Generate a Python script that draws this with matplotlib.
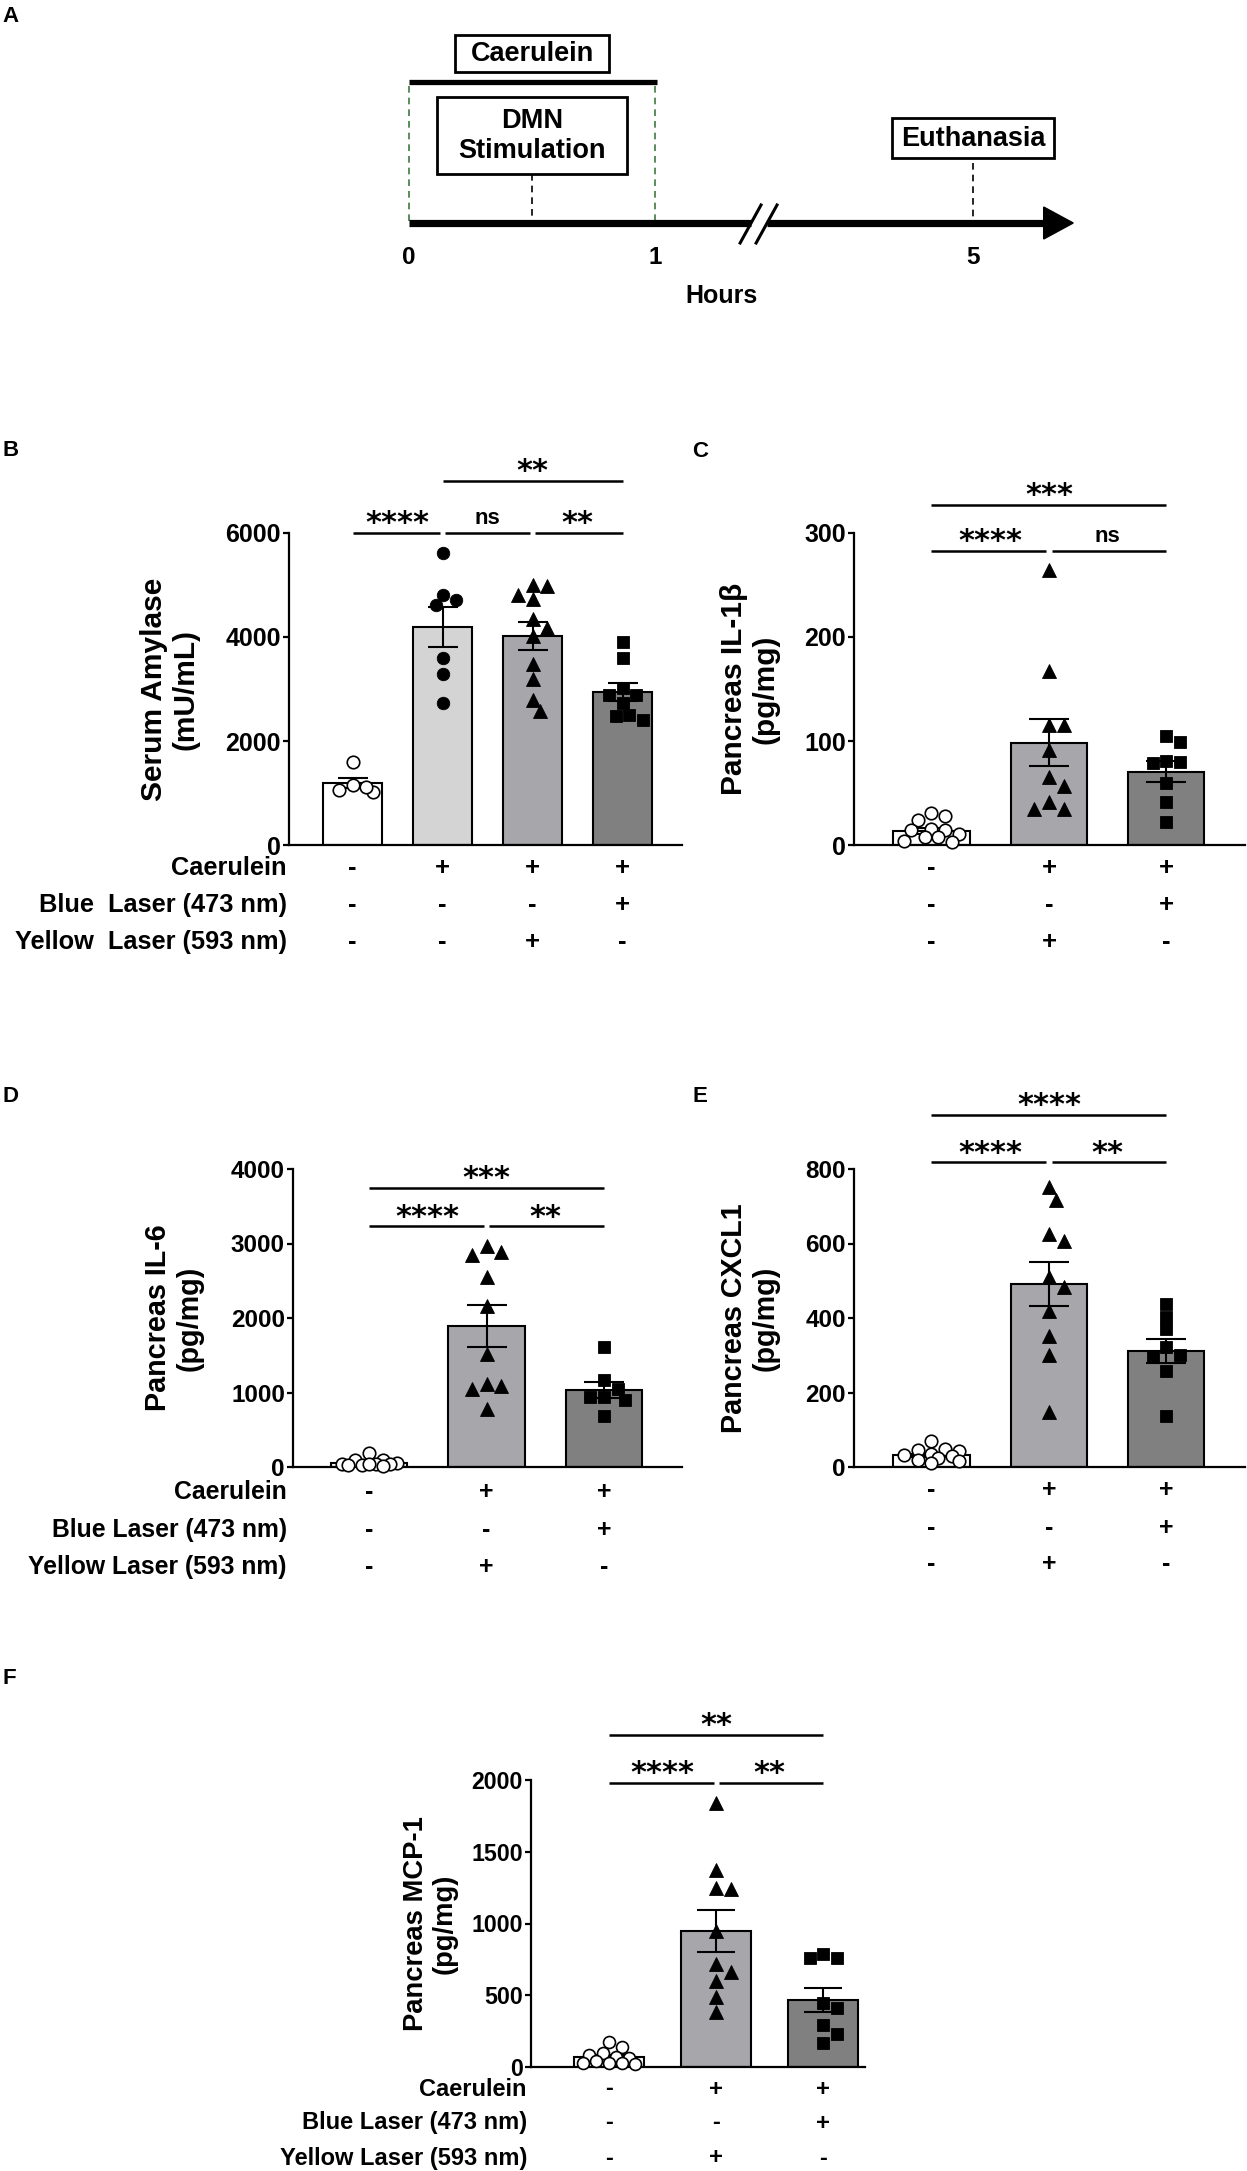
import numpy as np
import matplotlib
matplotlib.use("Agg")
import matplotlib.pyplot as plt
from matplotlib.patches import Rectangle, Polygon

plt.rcParams['font.family'] = ['Liberation Sans', 'DejaVu Sans']
plt.rcParams['font.weight'] = 'bold'

# ---------------- data ----------------
timeline_ticks = [0, 1, 5]
caerulein_hours = (0, 1)
dmn_hour = 0.5
euthanasia_hour = 5

caerulein_B = ["-", "+", "+", "+"]
blue_B = ["-", "-", "-", "+"]
yellow_B = ["-", "-", "+", "-"]
rows_B = ["Caerulein", "Blue  Laser (473 nm)", "Yellow  Laser (593 nm)"]

amylase_pts = [
    [1590, 1020, 1160, 1060, 1125],
    [5620, 4720, 4610, 4815, 3605, 3290, 2730],
    [4810, 4980, 4995, 4730, 4345, 4165, 4015, 3475, 3195, 2790, 2580],
    [3910, 3590, 3015, 2885, 2885, 2725, 2480, 2500, 2405],
]
amylase_mean = [1190, 4190, 4015, 2935]
amylase_sem = [100, 385, 265, 175]
amylase_sig = [(0, 1, 6000, "****"), (1, 2, 6000, "ns"), (2, 3, 6000, "**"), (1, 3, 7000, "**")]

caerulein_3 = ["-", "+", "+"]
blue_3 = ["-", "-", "+"]
yellow_3 = ["-", "+", "-"]
rows_3 = ["Caerulein", "Blue Laser (473 nm)", "Yellow Laser (593 nm)"]

il1b_pts = [
    [24, 28, 30.5, 15, 14.5, 14.5, 10.5, 7.5, 3, 4, 7.5],
    [264, 167, 115, 115, 91, 65, 57, 41, 35, 35],
    [105, 99, 81, 80, 79, 60, 41, 22],
]
il1b_mean = [13.5, 98.5, 70.5]
il1b_sem = [2.5, 23, 10]
il1b_sig = [(0, 1, 283, "****"), (1, 2, 283, "ns"), (0, 2, 327, "***")]

il6_pts = [
    [185, 100, 95, 60, 45, 40, 35, 30, 25, 20, 45],
    [2970, 2850, 2880, 2550, 2160, 1520, 1110, 1085, 1050, 775],
    [1610, 1165, 1050, 945, 945, 900, 680],
]
il6_mean = [60, 1890, 1035]
il6_sem = [15, 280, 110]
il6_sig = [(0, 1, 3230, "****"), (1, 2, 3230, "**"), (0, 2, 3750, "***")]

cxcl1_pts = [
    [69, 46, 48, 36, 42, 24, 30, 15, 18, 12, 33],
    [751, 717, 625, 607, 509, 484, 419, 351, 302, 147],
    [438, 402, 370, 321, 302, 298, 258, 138],
]
cxcl1_mean = [31, 491, 311]
cxcl1_sem = [5, 60, 33]
cxcl1_sig = [(0, 1, 818, "****"), (1, 2, 818, "**"), (0, 2, 945, "****")]

mcp1_pts = [
    [138, 175, 85, 100, 45, 70, 65, 30, 30, 30, 20],
    [1840, 1370, 1245, 1240, 945, 715, 660, 600, 490, 385],
    [762, 762, 786, 412, 448, 293, 229, 167],
]
mcp1_mean = [68, 948, 465]
mcp1_sem = [14, 145, 83]
mcp1_sig = [(0, 1, 1980, "****"), (1, 2, 1980, "**"), (0, 2, 2315, "**")]

# ---------------- figure ----------------
W, H, DPI = 1247, 2171, 100
PT = 72.0 / DPI  # points per pixel
fig = plt.figure(figsize=(W / DPI, H / DPI), dpi=DPI)


def axes_px(l, t, r, b):
    return fig.add_axes([l / W, 1 - b / H, (r - l) / W, (b - t) / H])


def fig_text(xpx, ypx, s, **kw):
    fig.text(xpx / W, 1 - ypx / H, s, **kw)


# ---------------- panel A (timeline schematic) ----------------
A_X0, A_PX_PER_U = 409, 246  # layout of the schematic


def tpos(h):
    return h if h <= 1 else 1 + (h - 1) * 0.3232


axA = axes_px(0, 0, W, 318)
axA.set_xlim(-A_X0 / A_PX_PER_U, (W - A_X0) / A_PX_PER_U)
axA.set_ylim(318, 0)
axA.axis('off')

LINE_Y = 223
green = '#3d7a3d'
axA.plot([tpos(caerulein_hours[0]), tpos(caerulein_hours[1]) + 0.01], [82, 82], color='k', lw=3.8,
         solid_capstyle='butt')
cx = tpos(0.5 * (caerulein_hours[0] + caerulein_hours[1]))
axA.add_patch(Rectangle((cx - 0.311, 35), 0.622, 37, fill=False, ec='k', lw=2.0))
axA.text(cx, 54, "Caerulein", ha='center', va='center', fontsize=19.5)
for h in caerulein_hours:
    axA.plot([tpos(h), tpos(h)], [86, LINE_Y], color=green, lw=1.2, ls=(0, (4, 3)))
dx = tpos(dmn_hour)
axA.add_patch(Rectangle((dx - 0.386, 97), 0.772, 77, fill=False, ec='k', lw=2.0))
axA.text(dx, 136, "DMN\nStimulation", ha='center', va='center', fontsize=19.5, linespacing=1.25)
axA.plot([dx, dx], [174, LINE_Y], color='k', lw=1.2, ls=(0, (4, 3)))
ex = tpos(euthanasia_hour)
axA.add_patch(Rectangle((ex - 0.331, 118), 0.662, 40, fill=False, ec='k', lw=2.0))
axA.text(ex, 139, "Euthanasia", ha='center', va='center', fontsize=19.5)
axA.plot([ex, ex], [163, LINE_Y], color='k', lw=1.2, ls=(0, (4, 3)))
axA.plot([tpos(0), 1.39], [LINE_Y, LINE_Y], color='k', lw=5.2, solid_capstyle='butt')
axA.plot([1.455, 2.59], [LINE_Y, LINE_Y], color='k', lw=5.2, solid_capstyle='butt')
axA.add_patch(Polygon([(2.58, 207), (2.70, LINE_Y), (2.58, 239)], closed=True, fc='k', ec='k'))
axA.plot([1.346, 1.431], [243, 205], color='k', lw=2.2)
axA.plot([1.411, 1.496], [243, 205], color='k', lw=2.2)
for h in timeline_ticks:
    axA.text(tpos(h), 258, str(h), ha='center', va='center', fontsize=17.5)
axA.text(1.27, 296, "Hours", ha='center', va='center', fontsize=18)


# ---------------- bar panels ----------------
BAR_W = 0.65


def swarm_x(ax, xc, vals, diam_px):
    vals = np.asarray(vals, float)
    ypx = ax.transData.transform(np.column_stack([np.full(len(vals), xc), vals]))[:, 1]
    ppu = ax.transData.transform((1, 0))[0] - ax.transData.transform((0, 0))[0]
    halfw = BAR_W / 2 * ppu - diam_px / 2
    s = diam_px * 0.55
    kmax = max(1, int(halfw // s))
    cands = [0]
    for k in range(1, kmax + 1):
        cands += [k, -k]
    placed = []
    xs = np.zeros(len(vals))
    for i in np.argsort(-vals, kind='stable'):
        best, bestd = 0.0, -1.0
        for c in cands:
            xo = c * s
            d = min([np.hypot(xo - px, ypx[i] - py) for px, py in placed], default=np.inf)
            if d >= diam_px * 0.95:
                best = xo
                break
            if d > bestd:
                bestd, best = d, xo
        placed.append((best, ypx[i]))
        xs[i] = xc + best / ppu
    return xs


def bar_panel(box, xlim, ymax, yticks, pts, means, sems, colors, markers, sig,
              ylabel, ylabel_x, ylabel_fs, tick_fs, conds, row_labels, row_label_x,
              row_offsets, capsize, ms):
    ax = axes_px(*box)
    ax.set_xlim(*xlim)
    ax.set_ylim(0, ymax)
    x = np.arange(len(means))
    ax.bar(x, means, width=BAR_W, color=colors, edgecolor='k', linewidth=1.5, zorder=2)
    ax.errorbar(x, means, yerr=sems, fmt='none', ecolor='k', elinewidth=1.5,
                capsize=capsize, capthick=1.5, zorder=3)
    for gi, (vals, (mk, filled)) in enumerate(zip(pts, markers)):
        d_px = ms[mk] / PT
        xs = swarm_x(ax, gi, vals, d_px)
        ax.plot(xs, vals, ls='none', marker=mk, ms=ms[mk],
                mfc='k' if filled else 'white', mec='k', mew=1.2 if not filled else 0.6,
                zorder=4, clip_on=False)
    for side in ['top', 'right']:
        ax.spines[side].set_visible(False)
    for side in ['left', 'bottom']:
        ax.spines[side].set_linewidth(1.6)
    ax.set_yticks(yticks)
    ax.set_yticklabels([str(t) for t in yticks], fontsize=tick_fs, fontweight='bold')
    ax.tick_params(axis='y', length=6 * PT, width=1.6, pad=1.5, direction='out')
    ax.set_xticks([])
    ax.patch.set_alpha(0)
    gap = 0.025
    for (i, j, lvl, txt) in sig:
        same = [s for s in sig if s[2] == lvl]
        x0 = i + (gap if any(s[1] == i for s in same) else 0)
        x1 = j - (gap if any(s[0] == j for s in same) else 0)
        ax.plot([x0, x1], [lvl, lvl], color='k', lw=1.8, clip_on=False, solid_capstyle='butt')
        if txt == 'ns':
            ax.annotate(txt, xy=((i + j) / 2, lvl), xytext=(0, 6.5), textcoords='offset points',
                        ha='center', va='baseline', fontsize=16, annotation_clip=False)
        else:
            ax.annotate(txt, xy=((i + j) / 2, lvl), xytext=(0, 0.5), textcoords='offset points',
                        ha='center', va='baseline', fontsize=22, family='DejaVu Sans',
                        fontweight='bold', annotation_clip=False)
    l, t, r, b = box
    fig_text(ylabel_x, (t + b) / 2, ylabel, rotation=90, ha='center', va='center',
             fontsize=ylabel_fs, linespacing=1.15, multialignment='center')
    for ri, row in enumerate(conds):
        ypx = b + row_offsets[ri]
        for gi, s in enumerate(row):
            xpx = ax.transData.transform((gi, 0))[0]
            fig_text(xpx, ypx, s, ha='center', va='center', fontsize=tick_fs + 0.5)
        if row_labels is not None:
            fig_text(row_label_x, ypx, row_labels[ri], ha='right', va='center',
                     fontsize=tick_fs + 0.3)
    return ax


colors4 = ['white', '#D4D4D4', '#A6A6AB', '#808080']
colors3 = ['white', '#A6A6AB', '#808080']
markers4 = [('o', False), ('o', True), ('^', True), ('s', True)]
markers3 = [('o', False), ('^', True), ('s', True)]
ms_big = {'o': 9.0, '^': 9.8, 's': 9.0}
ms_f = {'o': 8.6, '^': 9.4, 's': 8.8}
rows_off = [23, 60, 97]

bar_panel((289, 533, 682, 845), (-0.706, 3.661), 6000, [0, 2000, 4000, 6000],
          amylase_pts, amylase_mean, amylase_sem, colors4, markers4, amylase_sig,
          "Serum Amylase\n(mU/mL)", 170, 21.5, 18, [caerulein_B, blue_B, yellow_B],
          rows_B, 287, rows_off, 10.8, ms_big)

bar_panel((854, 533, 1245, 845), (-0.66, 2.67), 300, [0, 100, 200, 300],
          il1b_pts, il1b_mean, il1b_sem, colors3, markers3, il1b_sig,
          "Pancreas IL-1\u03b2\n(pg/mg)", 750, 21.5, 18, [caerulein_3, blue_3, yellow_3],
          None, None, rows_off, 14.4, ms_big)

bar_panel((293, 1169, 682, 1467), (-0.647, 2.664), 4000, [0, 1000, 2000, 3000, 4000],
          il6_pts, il6_mean, il6_sem, colors3, markers3, il6_sig,
          "Pancreas IL-6\n(pg/mg)", 174, 20.7, 17.5, [caerulein_3, blue_3, yellow_3],
          rows_3, 287, [25, 63, 100], 14.4, ms_big)

bar_panel((854, 1169, 1245, 1467), (-0.66, 2.67), 800, [0, 200, 400, 600, 800],
          cxcl1_pts, cxcl1_mean, cxcl1_sem, colors3, markers3, cxcl1_sig,
          "Pancreas CXCL1\n(pg/mg)", 750, 20.7, 17.5, [caerulein_3, blue_3, yellow_3],
          None, None, [23, 61, 97], 14.4, ms_big)

bar_panel((531, 1780, 865, 2067), (-0.73, 2.39), 2000, [0, 500, 1000, 1500, 2000],
          mcp1_pts, mcp1_mean, mcp1_sem, colors3, markers3, mcp1_sig,
          "Pancreas MCP-1\n(pg/mg)", 430, 19.7, 16.7, [caerulein_3, blue_3, yellow_3],
          rows_3, 527, [22, 56, 91], 13.5, ms_f)

for lab, xp, yp in [("A", 2, 17), ("B", 2, 450), ("C", 692, 452), ("D", 2, 1097),
                    ("E", 692, 1097), ("F", 2, 1679)]:
    fig_text(xp, yp, lab, ha='left', va='center', fontsize=16)

fig.savefig("out.png", dpi=DPI, facecolor='white')
